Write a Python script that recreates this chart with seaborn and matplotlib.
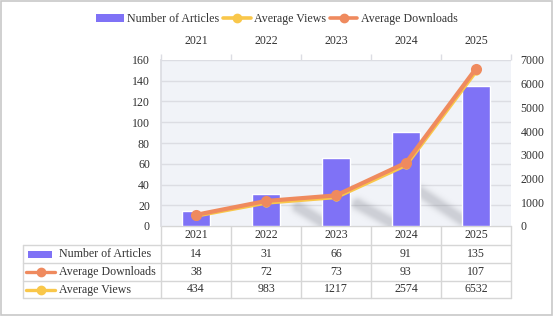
import numpy as np
import pandas as pd
import matplotlib
matplotlib.use("Agg")
import matplotlib.pyplot as plt
from matplotlib.lines import Line2D
from matplotlib.patches import Rectangle
import seaborn as sns

# ---- data ----
years = ["2021", "2022", "2023", "2024", "2025"]
num_articles = [14, 31, 66, 91, 135]
avg_downloads = [38, 72, 73, 93, 107]
avg_views = [434, 983, 1217, 2574, 6532]

# ---- styling ----
sns.set_theme(style="white")
plt.rcParams["font.family"] = ["Liberation Serif", "DejaVu Serif"]
FS = 8.6
TXT = "#333333"
BAR_C = "#7F72F6"
VIEW_C = "#F9C74A"
DOWN_C = "#EF8A5E"
GRID_C = "#DCDDE3"
BORDER_C = "#D6D6D6"
BG = "#F1F3F8"

W, H = 553, 324
fig = plt.figure(figsize=(W / 100, H / 100), dpi=100)
fig.patch.set_facecolor("white")

# full-figure canvas in pixel units for the card border and the data table
canvas = fig.add_axes([0, 0, 1, 1], zorder=0)
canvas.set_xlim(0, W)
canvas.set_ylim(H, 0)
canvas.axis("off")
canvas.add_patch(Rectangle((0.5, 0.5), W - 1.5, 314, fill=False,
                           edgecolor="#C8C8C8", lw=1.2))

# plot area (pixels): x 161..511, y 60..226
L, R, T, B = 161, 511, 60, 226
YMAX = 160
ax = fig.add_axes([L / W, 1 - B / H, (R - L) / W, (B - T) / H], zorder=2)
ax.set_facecolor(BG)

df = pd.DataFrame({"year": years, "articles": num_articles})
sns.barplot(data=df, x="year", y="articles", color=BAR_C, width=0.4,
            saturation=1, ax=ax, zorder=3)

# soft shadow streaks on the background beneath the lines (blurred bands),
# rasterised at the screen resolution of the plot area
nx, ny = R - L, B - T
px_x = nx / len(years)               # pixels per category
px_y = ny / YMAX                     # pixels per left-axis unit
PX, PY = np.meshgrid(np.arange(nx) + 0.5, np.arange(ny) + 0.5)
streaks = [((1.46, 18), (1.80, 4)), ((2.31, 21), (2.77, 4)),
           ((3.20, 33), (3.80, 6))]
alpha = np.zeros_like(PX)
for (x0, y0), (x1, y1) in streaks:
    ax_, ay_ = (x0 + 0.5) * px_x, y0 * px_y
    bx_, by_ = (x1 + 0.5) * px_x, y1 * px_y
    dx, dy = bx_ - ax_, by_ - ay_
    t = np.clip(((PX - ax_) * dx + (PY - ay_) * dy) / (dx * dx + dy * dy), 0, 1)
    d = np.hypot(PX - (ax_ + t * dx), PY - (ay_ + t * dy))
    alpha = np.maximum(alpha, 0.28 * np.exp(-np.maximum(d - 1.5, 0) ** 2 / (2 * 3.6 ** 2)))
shadow = np.zeros(PX.shape + (4,))
shadow[..., :3] = np.array([0.45, 0.46, 0.50])
shadow[..., 3] = alpha
ax.imshow(shadow, extent=(-0.5, len(years) - 0.5, 0, YMAX), origin="lower",
          aspect="auto", interpolation="nearest", zorder=1)

ax.set_xlim(-0.5, len(years) - 0.5)
ax.set_ylim(0, YMAX)
ax.set_yticks(np.arange(0, YMAX + 1, 20))
ax.yaxis.grid(True, color=GRID_C, lw=1, zorder=0)
ax.set_axisbelow(True)
ax.set_xlabel("")
ax.set_ylabel("")
ax.tick_params(axis="y", length=0, labelsize=FS, labelcolor=TXT, pad=8)
for s in ["top", "right", "bottom"]:
    ax.spines[s].set_visible(False)
ax.spines["left"].set_color(GRID_C)

# category labels along the top, small ticks on category boundaries
ax.xaxis.tick_top()
ax.set_xticks(range(len(years)))
ax.set_xticklabels(years)
ax.set_xticks(np.arange(-0.5, len(years), 1.0), minor=True)
ax.tick_params(axis="x", which="major", length=0, labelsize=FS,
               labelcolor=TXT, pad=9)
ax.tick_params(axis="x", which="minor", length=4, color=GRID_C, width=1,
               top=True, bottom=False)

# secondary axis: views, and downloads stacked on top of views
ax2 = ax.twinx()
ax2.set_ylim(0, 7000)
ax2.set_yticks(np.arange(0, 7001, 1000))
ax2.tick_params(axis="y", length=0, labelsize=FS, labelcolor=TXT, pad=7)
for s in ax2.spines.values():
    s.set_visible(False)
ax2.grid(False)

xs = np.arange(len(years))
stack_top = np.array(avg_views) + np.array(avg_downloads)
line_df = pd.DataFrame({"x": np.concatenate([xs, xs]),
                        "v": np.concatenate([avg_views, stack_top]),
                        "series": ["Average Views"] * 5 + ["Average Downloads"] * 5})
sns.lineplot(data=line_df, x="x", y="v", hue="series",
             palette={"Average Views": VIEW_C, "Average Downloads": DOWN_C},
             marker="o", markersize=8, markeredgewidth=0, linewidth=3,
             legend=False, ax=ax2)
# views markers sit mostly hidden under the downloads line
for ln in ax2.get_lines():
    if ln.get_color() == VIEW_C or matplotlib.colors.same_color(ln.get_color(), VIEW_C):
        ln.set_markersize(6)
ax2.set_xlabel("")
ax2.set_ylabel("")
ax2.set_xlim(-0.5, len(years) - 0.5)

# ---- legend at top ----
handles = [
    Rectangle((0, 0), 1, 1, facecolor=BAR_C, edgecolor="none"),
    Line2D([0], [0], color=VIEW_C, lw=2.6, marker="o", markersize=6),
    Line2D([0], [0], color=DOWN_C, lw=2.6, marker="o", markersize=6),
]
fig.legend(handles, ["Number of Articles", "Average Views", "Average Downloads"],
           loc="center", bbox_to_anchor=(277 / W, 1 - 19 / H), ncol=3,
           frameon=False, fontsize=FS, handlelength=2.3, handleheight=0.7,
           handletextpad=0.3, columnspacing=0.3, labelcolor=TXT)

# ---- data table under the plot ----
col_edges = [L + 70 * i for i in range(len(years) + 1)]
row_edges = [226, 245, 263, 281, 298]
TL = 23
lkw = dict(color=BORDER_C, lw=1, zorder=1)
canvas.plot([L, R], [row_edges[0], row_edges[0]], **lkw)
for y in row_edges[1:]:
    canvas.plot([TL, R], [y, y], **lkw)
for x in col_edges:
    canvas.plot([x, x], [row_edges[0], row_edges[-1]], **lkw)
canvas.plot([TL, TL], [row_edges[1], row_edges[-1]], **lkw)

tkw = dict(fontsize=FS, color=TXT, ha="center", va="center")
for i, yr in enumerate(years):
    cx = (col_edges[i] + col_edges[i + 1]) / 2
    canvas.text(cx, 235.5, yr, **tkw)

rows = [("Number of Articles", num_articles, "bar", BAR_C),
        ("Average Downloads", avg_downloads, "line", DOWN_C),
        ("Average Views", avg_views, "line", VIEW_C)]
for r, (label, vals, kind, c) in enumerate(rows):
    yc = (row_edges[r + 1] + row_edges[r + 2]) / 2
    if kind == "bar":
        canvas.add_patch(Rectangle((28, yc - 3.5), 24, 7, facecolor=c,
                                   edgecolor="none"))
    else:
        canvas.plot([26, 55], [yc, yc], color=c, lw=2.4)
        canvas.plot([40.5], [yc], "o", color=c, markersize=6)
    canvas.text(59, yc, label, fontsize=FS, color=TXT, ha="left", va="center")
    for i, v in enumerate(vals):
        cx = (col_edges[i] + col_edges[i + 1]) / 2
        canvas.text(cx, yc, str(v), **tkw)

fig.savefig("out.png", dpi=100, facecolor="white")
